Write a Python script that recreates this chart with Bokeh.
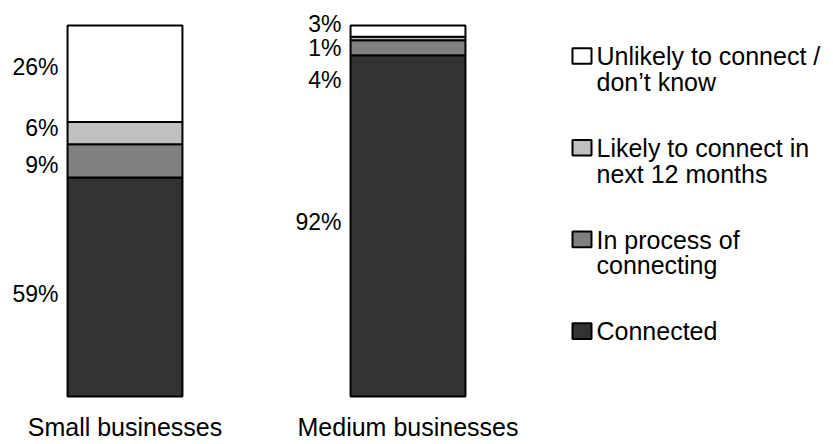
from bokeh.plotting import figure
from bokeh.models import Range1d, ColumnDataSource, BoxAnnotation, Label
from bokeh.core.properties import value
from bokeh.embed import file_html
from bokeh.resources import INLINE

# ---- data ----
categories = ["Small businesses", "Medium businesses"]
series = ["Connected", "In process of\nconnecting", "Likely to connect in\nnext 12 months",
          "Unlikely to connect /\ndon\u2019t know"]
connected = [59, 92]
in_process = [9, 4]
likely = [6, 1]
unlikely = [26, 3]

# ---- styling ----
colors = ["#333333", "#808080", "#c0c0c0", "#ffffff"]
FONT = "Liberation Sans"
BAR_W = 0.406
W, H = 833, 444
# label vertical nudges in screen pixels (positive = down), per category per series
label_nudge = [[7, 4.5, -5, -7], [-4, 32, 9.5, -7]]
# legend layout (canvas pixels from top-left)
LEG_X = 572
LEG_KEY_W, LEG_KEY_H = 19, 15.6
LEG_TOP = 47.7
LEG_PITCH = 91.7

keys = ["connected", "in_process", "likely", "unlikely"]
x_idx = list(range(len(categories)))
src = ColumnDataSource(dict(x=x_idx, connected=connected, in_process=in_process,
                            likely=likely, unlikely=unlikely))

p = figure(width=W, height=H, output_backend="svg", toolbar_location=None,
           x_range=Range1d(-0.4399, 2.5035), y_range=Range1d(-12.94, 106.74),
           x_axis_location=None, y_axis_location=None,
           min_border_left=0, min_border_right=0, min_border_top=0, min_border_bottom=0)
p.outline_line_color = None
p.xgrid.visible = False
p.ygrid.visible = False

renderers = p.vbar_stack(keys, x="x", width=BAR_W, source=src, fill_color=colors,
                         line_color="black", line_width=2)

# percent labels
lx, ly, lt, lo = [], [], [], []
vals = [connected, in_process, likely, unlikely]
for ci in x_idx:
    bottom = 0
    for si, arr in enumerate(vals):
        v = arr[ci]
        lx.append(ci - BAR_W / 2)
        ly.append(bottom + v / 2)
        lt.append(f"{v}%")
        lo.append(label_nudge[ci][si])
        bottom += v
lsrc = ColumnDataSource(dict(x=lx, y=ly, t=lt, o=lo))
p.text(x="x", y="y", text="t", y_offset="o", x_offset=-9, source=lsrc,
       text_align="right", text_baseline="middle", text_font=value(FONT),
       text_font_size="23px", text_color="black")

# category labels under the bars
csrc = ColumnDataSource(dict(x=x_idx, y=[0] * len(x_idx), t=categories))
p.text(x="x", y="y", text="t", y_offset=31, source=csrc,
       text_align="center", text_baseline="middle", text_font=value(FONT),
       text_font_size="25px", text_color="black")

# legend (reverse stack order), drawn as key boxes + labels
for k, si in enumerate(reversed(range(len(series)))):
    top = LEG_TOP + k * LEG_PITCH
    p.add_layout(BoxAnnotation(left=LEG_X, right=LEG_X + LEG_KEY_W,
                               top=H - top, bottom=H - top - LEG_KEY_H,
                               left_units="screen", right_units="screen",
                               top_units="screen", bottom_units="screen",
                               fill_color=colors[si], fill_alpha=1,
                               line_color="black", line_width=2, line_alpha=1))
    p.add_layout(Label(x=LEG_X + LEG_KEY_W + 5, y=H - top + 6, x_units="screen",
                       y_units="screen", text=series[si], text_align="left",
                       text_baseline="top", text_font=FONT, text_font_size="25px",
                       text_line_height=0.92, text_color="black"))

open("out.html", "w").write(file_html(p, INLINE))
